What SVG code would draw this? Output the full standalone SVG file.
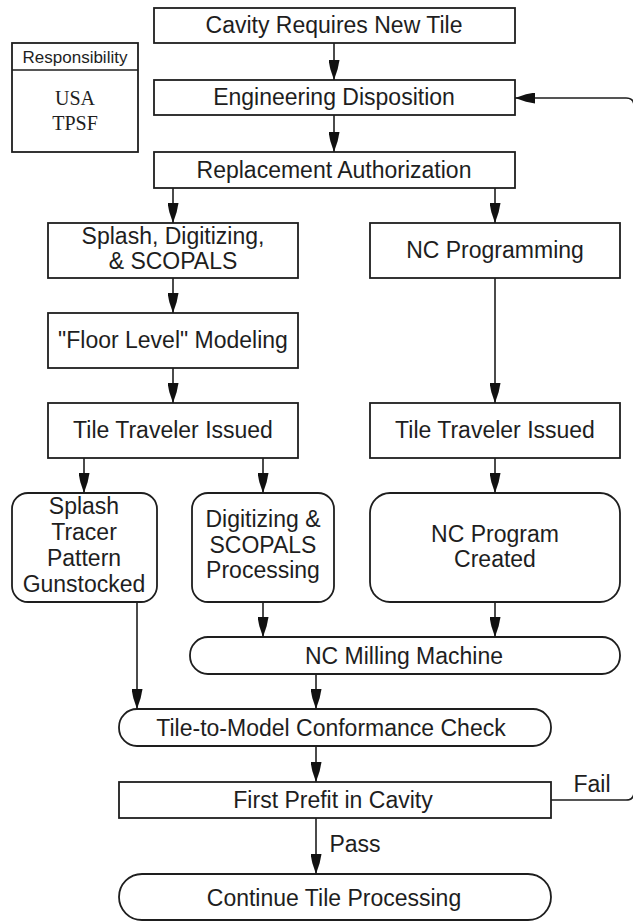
<svg xmlns="http://www.w3.org/2000/svg" width="633" height="923" viewBox="0 0 633 923">
<style>
  .box{fill:#fff;stroke:#1e1e1e;stroke-width:1.8}
  .t{font-family:"Liberation Sans",Arial,sans-serif;font-size:23px;fill:#1e1e1e;text-anchor:middle}
  .s{font-family:"Liberation Serif","Times New Roman",serif;font-size:20px;fill:#1e1e1e;text-anchor:middle}
  .h{font-family:"Liberation Sans",Arial,sans-serif;font-size:17px;fill:#1e1e1e;text-anchor:middle}
  .c{fill:none;stroke:#1e1e1e;stroke-width:1.6}
</style>
<defs>
  <marker id="ah" markerUnits="userSpaceOnUse" viewBox="0 0 20 11" refX="20" refY="5.5" markerWidth="20" markerHeight="11" orient="auto">
    <path d="M0,0 L9,1.8 L20,5.5 L9,9.2 L0,11 z" fill="#111"/>
  </marker>
</defs>
<rect width="633" height="923" fill="#fff"/>

<g id="responsibility">
  <rect class="box" x="12" y="43" width="126" height="109"/>
  <line class="c" x1="12" y1="70" x2="138" y2="70" stroke-width="1.8"/>
  <text class="h" x="75" y="63">Responsibility</text>
  <text class="s" x="75" y="105">USA</text>
  <text class="s" x="75" y="130">TPSF</text>
</g>

<g id="cavity">
  <rect class="box" x="154" y="8" width="361" height="35"/>
  <text class="t" x="334" y="33">Cavity Requires New Tile</text>
</g>
<g id="engineering">
  <rect class="box" x="154" y="80" width="361" height="35"/>
  <text class="t" x="334" y="105">Engineering Disposition</text>
</g>
<g id="replacement">
  <rect class="box" x="154" y="152" width="361" height="36"/>
  <text class="t" x="334" y="178">Replacement Authorization</text>
</g>
<g id="splash-digitizing">
  <rect class="box" x="48" y="223" width="250" height="55"/>
  <text class="t" x="173" y="244">Splash, Digitizing,</text>
  <text class="t" x="173" y="269">&amp; SCOPALS</text>
</g>
<g id="nc-programming">
  <rect class="box" x="370" y="223" width="250" height="55"/>
  <text class="t" x="495" y="258">NC Programming</text>
</g>
<g id="floor-level">
  <rect class="box" x="48" y="313" width="250" height="55"/>
  <text class="t" x="173" y="348">"Floor Level" Modeling</text>
</g>
<g id="traveler-left">
  <rect class="box" x="48" y="403" width="250" height="55"/>
  <text class="t" x="173" y="438">Tile Traveler Issued</text>
</g>
<g id="traveler-right">
  <rect class="box" x="370" y="403" width="250" height="55"/>
  <text class="t" x="495" y="438">Tile Traveler Issued</text>
</g>
<g id="splash-tracer">
  <rect class="box" x="12" y="493" width="145" height="109" rx="16"/>
  <text class="t" x="84" y="514">Splash</text>
  <text class="t" x="84" y="540">Tracer</text>
  <text class="t" x="84" y="566">Pattern</text>
  <text class="t" x="84" y="592">Gunstocked</text>
</g>
<g id="digitizing-processing">
  <rect class="box" x="192" y="493" width="142" height="109" rx="16"/>
  <text class="t" x="263" y="527">Digitizing &amp;</text>
  <text class="t" x="263" y="553">SCOPALS</text>
  <text class="t" x="263" y="578">Processing</text>
</g>
<g id="nc-program-created">
  <rect class="box" x="370" y="493" width="250" height="109" rx="20"/>
  <text class="t" x="495" y="542">NC Program</text>
  <text class="t" x="495" y="567">Created</text>
</g>
<g id="nc-milling">
  <rect class="box" x="190" y="637" width="430" height="37" rx="18"/>
  <text class="t" x="404" y="664">NC Milling Machine</text>
</g>
<g id="conformance">
  <rect class="box" x="119" y="709" width="432" height="37" rx="18"/>
  <text class="t" x="331" y="736">Tile-to-Model Conformance Check</text>
</g>
<g id="prefit">
  <rect class="box" x="119" y="782" width="432" height="36"/>
  <text class="t" x="333" y="808">First Prefit in Cavity</text>
</g>
<g id="continue">
  <rect class="box" x="119" y="874" width="432" height="46" rx="23"/>
  <text class="t" x="334" y="906">Continue Tile Processing</text>
</g>

<g id="connectors">
  <line class="c" x1="334" y1="43" x2="334" y2="80" marker-end="url(#ah)"/>
  <line class="c" x1="334" y1="115" x2="334" y2="152" marker-end="url(#ah)"/>
  <line class="c" x1="173" y1="188" x2="173" y2="223" marker-end="url(#ah)"/>
  <line class="c" x1="495" y1="188" x2="495" y2="223" marker-end="url(#ah)"/>
  <line class="c" x1="173" y1="278" x2="173" y2="313" marker-end="url(#ah)"/>
  <line class="c" x1="173" y1="368" x2="173" y2="403" marker-end="url(#ah)"/>
  <line class="c" x1="495" y1="278" x2="495" y2="403" marker-end="url(#ah)"/>
  <line class="c" x1="84" y1="458" x2="84" y2="493" marker-end="url(#ah)"/>
  <line class="c" x1="263" y1="458" x2="263" y2="493" marker-end="url(#ah)"/>
  <line class="c" x1="495" y1="458" x2="495" y2="493" marker-end="url(#ah)"/>
  <line class="c" x1="263" y1="602" x2="263" y2="637" marker-end="url(#ah)"/>
  <line class="c" x1="495" y1="602" x2="495" y2="637" marker-end="url(#ah)"/>
  <line class="c" x1="137" y1="602" x2="137" y2="709" marker-end="url(#ah)"/>
  <line class="c" x1="316" y1="674" x2="316" y2="709" marker-end="url(#ah)"/>
  <line class="c" x1="316" y1="746" x2="316" y2="782" marker-end="url(#ah)"/>
  <line class="c" x1="316" y1="818" x2="316" y2="874" marker-end="url(#ah)"/>
  <path class="c" d="M551,800 H626 Q634,800 634,792 V106 Q634,98 626,98 H515" marker-end="url(#ah)"/>
  <text class="t" x="355" y="852">Pass</text>
  <text class="t" x="592" y="792">Fail</text>
</g>
</svg>
